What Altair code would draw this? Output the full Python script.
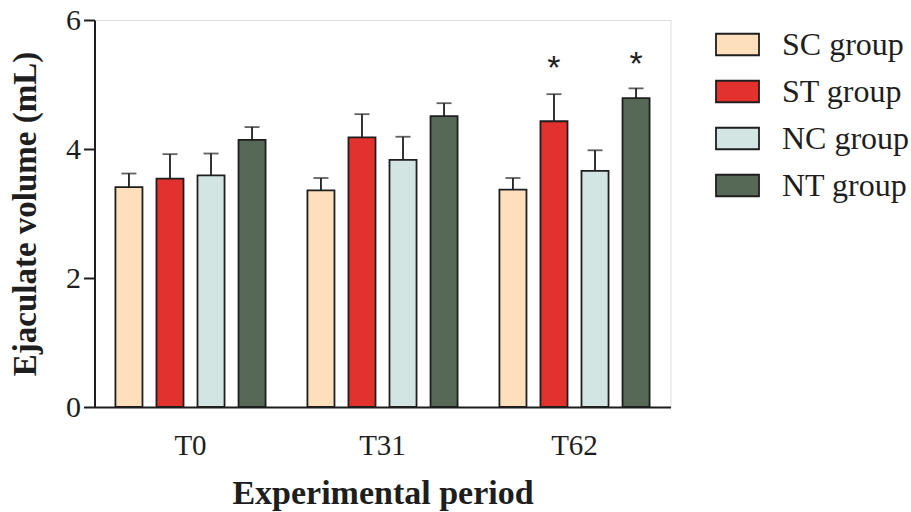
import altair as alt
import pandas as pd

periods = ["T0", "T31", "T62"]
groups = ["SC group", "ST group", "NC group", "NT group"]
sc_mean = [3.41, 3.36, 3.37]
st_mean = [3.54, 4.18, 4.43]
nc_mean = [3.59, 3.83, 3.66]
nt_mean = [4.14, 4.51, 4.79]
sc_upper = [3.62, 3.55, 3.55]
st_upper = [3.92, 4.54, 4.85]
nc_upper = [3.93, 4.19, 3.98]
nt_upper = [4.34, 4.71, 4.94]
colors = ["#FDDFBC", "#E3312D", "#D2E5E3", "#566956"]

star_period = ["T62", "T62"]
star_group = ["ST group", "NT group"]
star_y = [5.08, 5.14]

means = [sc_mean, st_mean, nc_mean, nt_mean]
uppers = [sc_upper, st_upper, nc_upper, nt_upper]
rows = []
for g, m, u in zip(groups, means, uppers):
    for p, mv, uv in zip(periods, m, u):
        rows.append({"period": p, "group": g, "mean": mv, "upper": uv})
df = pd.DataFrame(rows)
stars = pd.DataFrame({"period": star_period, "group": star_group, "y": star_y})

INK = "#1e1e1e"
SERIF = "Liberation Serif"

x = alt.X(
    "period:N",
    sort=periods,
    scale=alt.Scale(paddingInner=0, paddingOuter=0),
    axis=alt.Axis(
        title="Experimental period",
        titleFont=SERIF, titleFontSize=34, titleFontWeight="bold", titleColor=INK,
        titleBaseline="alphabetic", titleY=96,
        labelFont=SERIF, labelFontSize=29, labelColor=INK, labelAngle=0,
        labelPadding=24, ticks=False, tickSize=0,
        domainColor=INK, domainWidth=2,
    ),
)
xo = alt.XOffset("group:N", sort=groups,
                 scale=alt.Scale(paddingInner=0.341, paddingOuter=0.51))
yscale = alt.Scale(domain=[0, 6], nice=False)

bars = alt.Chart(df).mark_bar(stroke=INK, strokeWidth=1.8).encode(
    x=x,
    xOffset=xo,
    y=alt.Y(
        "mean:Q",
        scale=yscale,
        axis=alt.Axis(
            title="Ejaculate volume (mL)",
            titleFont=SERIF, titleFontSize=33, titleFontWeight="bold", titleColor=INK,
            titleAngle=270, titleBaseline="alphabetic", titleX=-59.5,
            values=[0, 2, 4, 6], format="d",
            labelFont=SERIF, labelFontSize=30, labelColor=INK,
            labelPadding=3, tickSize=11, tickWidth=2, tickColor=INK,
            domainColor=INK, domainWidth=2, grid=False,
        ),
    ),
    color=alt.Color(
        "group:N",
        sort=groups,
        scale=alt.Scale(domain=groups, range=colors),
        legend=alt.Legend(
            title=None, orient="none", legendX=620.5, legendY=2,
            symbolType="M-1,-0.5H1V0.5H-1Z", symbolSize=1849,
            symbolStrokeColor=INK, symbolStrokeWidth=1.8, symbolOpacity=1,
            labelFont=SERIF, labelFontSize=32, labelColor=INK,
            labelOffset=22, rowPadding=8, padding=0,
        ),
    ),
)

stems = alt.Chart(df).mark_rule(color=INK, strokeWidth=1.8).encode(
    x=x, xOffset=xo, y=alt.Y("mean:Q", scale=yscale), y2="upper:Q"
)
caps = alt.Chart(df).mark_tick(color=INK, thickness=1.8, size=15).encode(
    x=x, xOffset=xo, y=alt.Y("upper:Q", scale=yscale)
)
star_marks = alt.Chart(stars).mark_text(
    text="*", fontSize=34, font="Liberation Sans", color=INK, baseline="alphabetic"
).encode(
    x=alt.X("period:N", sort=periods, scale=alt.Scale(paddingInner=0, paddingOuter=0)),
    xOffset=alt.XOffset("group:N", sort=groups,
                        scale=alt.Scale(domain=groups, paddingInner=0.341, paddingOuter=0.51)),
    y=alt.Y("y:Q", scale=yscale),
)

chart = alt.layer(stems, caps, bars, star_marks).properties(
    width=576, height=387,
    autosize=alt.AutoSizeParams(type="none"),
    padding={"left": 94.5, "top": 20, "right": 240.5, "bottom": 105},
).configure_view(stroke=None).configure(background="white")

chart.save("out.html", embed_options={"renderer": "svg", "actions": False})
